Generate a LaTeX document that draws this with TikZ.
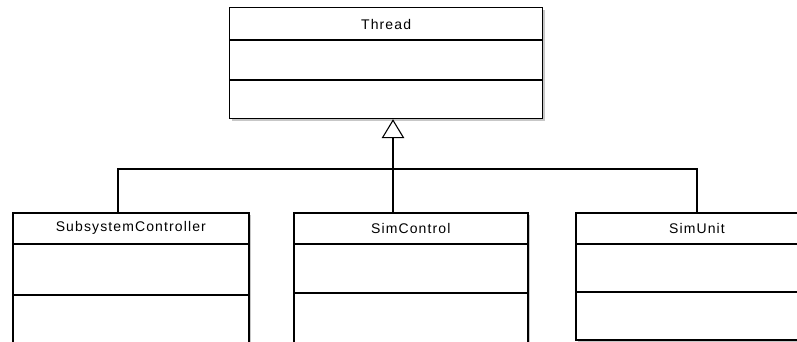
\documentclass[tikz,border=0pt]{standalone}
\usepackage{fontspec}
\setmainfont{Liberation Sans}
\newfontfamily\umlfont[LetterSpace=8]{Liberation Sans}
\usetikzlibrary{arrows.meta,shadows,calc}

\begin{document}
\begin{tikzpicture}[x=1pt,y=-1pt,
  classbox/.style={draw=black, fill=white, line width=1.6pt, anchor=north west,
    inner sep=0pt,
    drop shadow={shadow xshift=2.5pt, shadow yshift=-2.5pt, fill=black!22, opacity=1}},
  divider/.style={line width=1.3pt},
  classname/.style={font=\umlfont\fontsize{14}{16}\selectfont, inner sep=0pt},
  generalization/.style={line width=2.4pt},
]
\useasboundingbox (0,0) rectangle (797,342);
\clip (0,0) rectangle (797,342);

% superclass
\node[classbox, line width=1.2pt, minimum width=313pt, minimum height=111pt] (thread) at (229,7) {};
\node[classname] (threadname) at ($(thread.north)+(0,17)$) {Thread};
\draw[divider, line width=1.1pt] ($(thread.north west)+(0,33)$) -- ($(thread.north east)+(0,33)$);
\draw[divider, line width=1.1pt] ($(thread.north west)+(0,73)$) -- ($(thread.north east)+(0,73)$);

% subclasses
\node[classbox, minimum width=236pt, minimum height=150pt] (ssc) at (12,212) {};
\node[classname] (sscname) at ($(ssc.north)+(0,16)$) {SubsystemController};
\draw[divider, line width=1.8pt] ($(ssc.north west)+(0,32)$) -- ($(ssc.north east)+(0,32)$);
\draw[divider] ($(ssc.north west)+(0,83)$) -- ($(ssc.north east)+(0,83)$);

\node[classbox, minimum width=234pt, minimum height=150pt] (sc) at (293,212) {};
\node[classname] (scname) at ($(sc.north)+(0,16)$) {SimControl};
\draw[divider, line width=1.8pt] ($(sc.north west)+(0,32)$) -- ($(sc.north east)+(0,32)$);
\draw[divider, line width=1.6pt] ($(sc.north west)+(0,81)$) -- ($(sc.north east)+(0,81)$);

\node[classbox, minimum width=240pt, minimum height=127pt] (su) at (575,212) {};
\node[classname] (suname) at ($(su.north west)+(122,16)$) {SimUnit};
\draw[divider, line width=1.8pt] ($(su.north west)+(0,32)$) -- ($(su.north east)+(0,32)$);
\draw[divider, line width=1.6pt] ($(su.north west)+(0,80)$) -- ($(su.north east)+(0,80)$);

% generalization tree
\coordinate (bus) at (393,169);
\draw[generalization] ($(ssc.north west)+(106,0)$) |- (bus) -| ($(su.north west)+(122,0)$);
\draw[generalization, -{Triangle[open, length=19pt, width=22.6pt, line width=1.1pt]}]
  ($(sc.north west)+(100,0)$) -- (thread.south -| bus);
\end{tikzpicture}
\end{document}
